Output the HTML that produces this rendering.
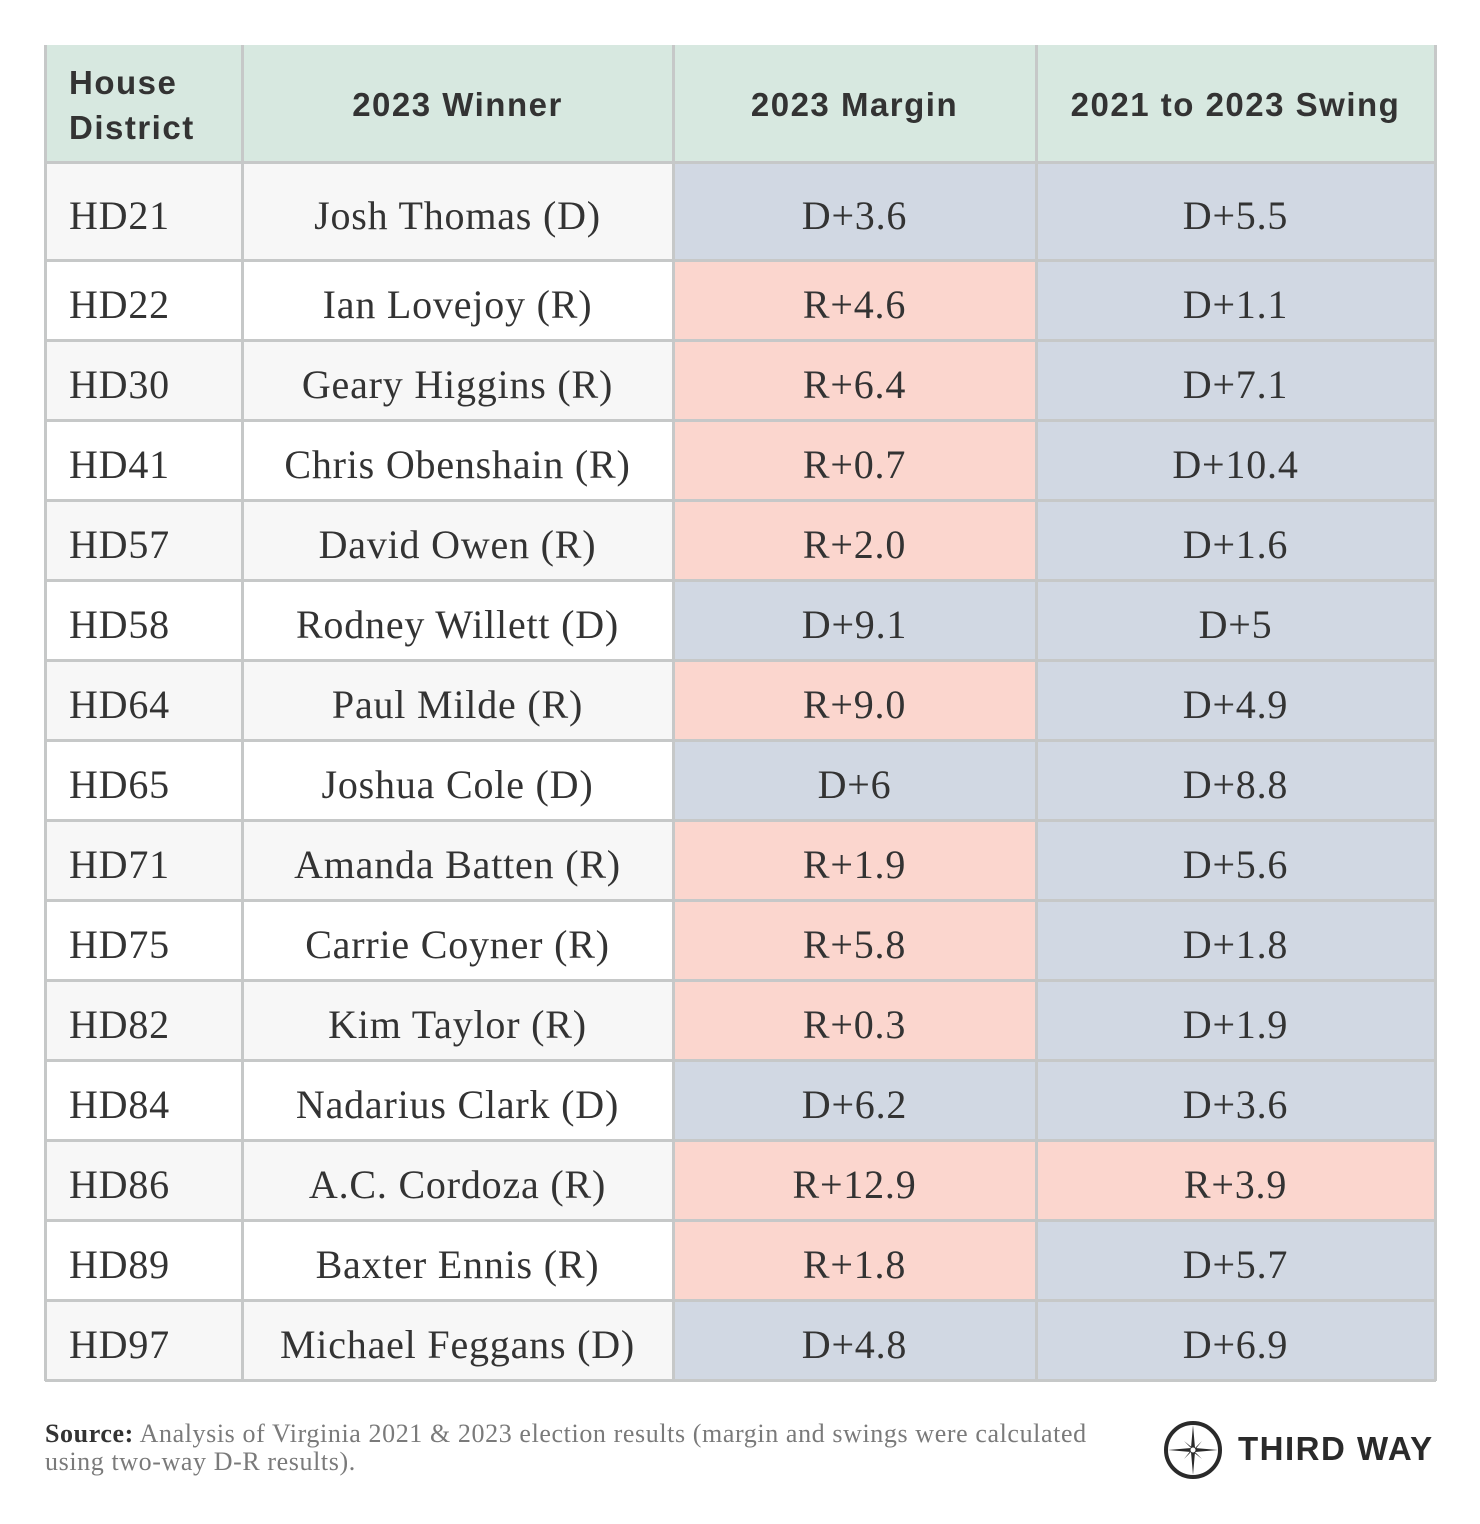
<!DOCTYPE html>
<html><head><meta charset="utf-8"><style>
body{margin:0;width:1480px;height:1524px;background:#fff;position:relative;overflow:hidden}
.c{position:absolute;box-sizing:border-box;display:flex;align-items:center;justify-content:center;font-family:"Liberation Serif",serif;font-size:40px;letter-spacing:0.8px;color:#333;padding-top:8px}
.h{font-family:"Liberation Sans",sans-serif;font-weight:bold;font-size:33px;letter-spacing:1.5px;color:#333;background:#d7e8e0;padding-top:2px}
.l{justify-content:flex-start;padding-left:24px}
.b{background:#d1d8e3}.r{background:#fbd6ce}
.g{position:absolute;background:#c6c8c8}
</style></head><body>
<div id="t"></div>
<div style="position:absolute;left:45px;top:1420px;font-family:'Liberation Serif',serif;font-size:26px;letter-spacing:0.6px;line-height:28px;color:#7a7a7a;white-space:nowrap"><b style="color:#333">Source:</b> Analysis of Virginia 2021 &amp; 2023 election results (margin and swings were calculated<br>using two-way D-R results).</div>
<svg style="position:absolute;left:1162px;top:1419px" width="62" height="62" viewBox="0 0 62 62"><circle cx="31" cy="31" r="27" fill="none" stroke="#2a2a2a" stroke-width="4"/><path d="M31 6L33 29L56 31L33 33L31 56L29 33L6 31L29 29Z M22 22L32 30L40 22L32 32L40 40L30 32L22 40L30 30Z" fill="#2a2a2a"/><circle cx="31" cy="31" r="2.5" fill="#fff"/></svg>
<div style="position:absolute;left:1238px;top:1430px;font-family:'Liberation Sans',sans-serif;font-weight:bold;font-size:33px;color:#2a2a2a;letter-spacing:1.5px">THIRD WAY</div>
<script>
var X=[45,242,673,1036,1435];
var rows=[["HD21","Josh Thomas (D)","D+3.6","D+5.5"],["HD22","Ian Lovejoy (R)","R+4.6","D+1.1"],["HD30","Geary Higgins (R)","R+6.4","D+7.1"],["HD41","Chris Obenshain (R)","R+0.7","D+10.4"],["HD57","David Owen (R)","R+2.0","D+1.6"],["HD58","Rodney Willett (D)","D+9.1","D+5"],["HD64","Paul Milde (R)","R+9.0","D+4.9"],["HD65","Joshua Cole (D)","D+6","D+8.8"],["HD71","Amanda Batten (R)","R+1.9","D+5.6"],["HD75","Carrie Coyner (R)","R+5.8","D+1.8"],["HD82","Kim Taylor (R)","R+0.3","D+1.9"],["HD84","Nadarius Clark (D)","D+6.2","D+3.6"],["HD86","A.C. Cordoza (R)","R+12.9","R+3.9"],["HD89","Baxter Ennis (R)","R+1.8","D+5.7"],["HD97","Michael Feggans (D)","D+4.8","D+6.9"]];
var h="";
function cell(x0,x1,y0,y1,cls,txt,st){h+='<div class="c '+cls+'" style="left:'+x0+'px;top:'+y0+'px;width:'+(x1-x0)+'px;height:'+(y1-y0)+'px;'+(st||'')+'">'+txt+'</div>';}
var hd=["House<br>District","2023 Winner","2023 Margin","2021 to 2023 Swing"];
for(var j=0;j<4;j++)cell(X[j],X[j+1],45,162,"h"+(j==0?" l":""),hd[j],j==0?"line-height:45px;":"");
var Y=[162,260];for(var i=2;i<=15;i++)Y.push(260+80*(i-1));
for(var i=0;i<15;i++){var bg=i%2==0?"background:#f7f7f7;":"background:#fff;";
 cell(X[0],X[1],Y[i],Y[i+1],"l",rows[i][0],bg);
 cell(X[1],X[2],Y[i],Y[i+1],"",rows[i][1],bg);
 cell(X[2],X[3],Y[i],Y[i+1],rows[i][2][0]=="D"?"b":"r",rows[i][2]);
 cell(X[3],X[4],Y[i],Y[i+1],rows[i][3][0]=="D"?"b":"r",rows[i][3]);}
for(var j=0;j<5;j++)h+='<div class="g" style="left:'+(X[j]-1)+'px;top:45px;width:2.5px;height:1336px"></div>';
var YY=[45].concat(Y);for(var i=1;i<YY.length;i++)h+='<div class="g" style="left:45px;top:'+(YY[i]-1)+'px;width:1391px;height:2.5px"></div>';
document.getElementById("t").innerHTML=h;
</script>
</body></html>
